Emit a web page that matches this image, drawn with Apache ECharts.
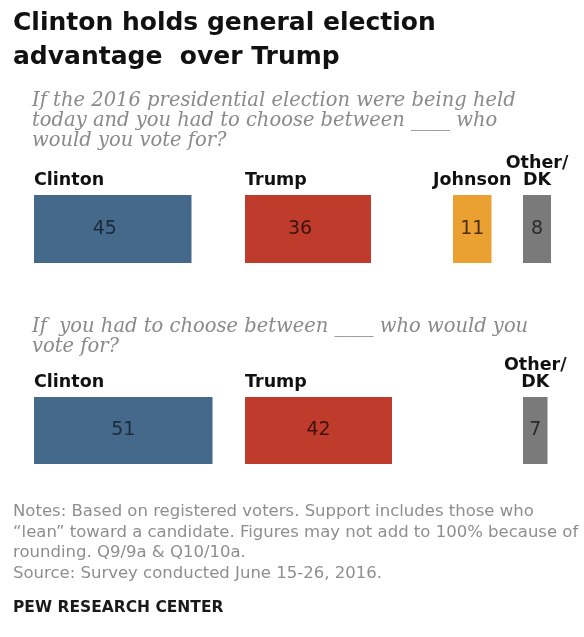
<!DOCTYPE html>
<html>
<head>
<meta charset="utf-8">
<script src="https://cdn.jsdelivr.net/npm/echarts@6/dist/echarts.min.js"></script>
<style>
  html, body { margin: 0; padding: 0; background: #ffffff; }
  #chart { width: 584px; height: 637px; }
</style>
</head>
<body>
<div id="chart"></div>
<script>
// Question with Johnson offered as a choice
const threeWayNames = ['Clinton', 'Trump', 'Johnson', 'Other/\nDK'];
const threeWayValues = [45, 36, 11, 8];

// Head-to-head question
const twoWayNames = ['Clinton', 'Trump', 'Other/\nDK'];
const twoWayValues = [51, 42, 7];

const titleLines = ['Clinton holds general election', 'advantage  over Trump'];
const question1Lines = [
  'If the 2016 presidential election were being held',
  'today and you had to choose between ____ who',
  'would you vote for?'
];
const question2Lines = [
  'If  you had to choose between ____ who would you',
  'vote for?'
];
const noteLines = [
  'Notes: Based on registered voters. Support includes those who',
  '\u201clean\u201d toward a candidate. Figures may not add to 100% because of',
  'rounding. Q9/9a & Q10/10a.',
  'Source: Survey conducted June 15-26, 2016.'
];
const creditLine = 'PEW RESEARCH CENTER';

// Styling per candidate
const barColors = { 'Clinton': '#44698a', 'Trump': '#bf3b2b', 'Johnson': '#eba132', 'Other/\nDK': '#7a7a7a' };
const valueInk = { 'Clinton': '#1b2b3a', 'Trump': '#3e130c', 'Johnson': '#4a2c06', 'Other/\nDK': '#2b2b2b' };

// Every bar shares one scale: 3.5 px per percentage point.
// Each bar gets its own small grid whose axis range keeps it inside the canvas.
const PX_PER_POINT = 3.5;

const rows = [
  { names: threeWayNames, values: threeWayValues, lefts: [34, 245, 453, 523], axisMax: [60, 60, 15, 15],
    top: 195, height: 68, nameAlign: ['left', 'left', 'center', 'center'], valueNudge: [-8, -8, 0, 0] },
  { names: twoWayNames, values: twoWayValues, lefts: [34, 245, 523], axisMax: [60, 60, 15],
    top: 397, height: 67, nameAlign: ['left', 'left', 'center'], valueNudge: [0, 0, 0] }
];

const grid = [], xAxis = [], yAxis = [], series = [], barInfo = [];
rows.forEach(row => {
  row.names.forEach((name, j) => {
    const idx = grid.length;
    grid.push({ left: row.lefts[j], top: row.top, width: row.axisMax[j] * PX_PER_POINT, height: row.height, containLabel: false });
    xAxis.push({ type: 'value', gridIndex: idx, min: 0, max: row.axisMax[j], show: false });
    yAxis.push({ type: 'category', gridIndex: idx, data: [name], show: false });
    series.push({
      type: 'bar',
      xAxisIndex: idx,
      yAxisIndex: idx,
      data: [row.values[j]],
      barWidth: row.height,
      silent: true,
      itemStyle: { color: barColors[name] },
      label: {
        show: true,
        position: 'inside',
        offset: [row.valueNudge[j], 0],
        formatter: '{c}',
        fontFamily: 'DejaVu Sans',
        fontSize: 19,
        color: valueInk[name]
      }
    });
    barInfo.push({ idx, name, value: row.values[j], top: row.top, align: row.nameAlign[j] });
  });
});

// Plain text lines placed by baseline
function textLines(lines, x, firstBaseline, step, font, size, fill) {
  return lines.map((t, i) => ({
    type: 'text',
    x: x,
    y: firstBaseline + i * step - 0.3 * size,
    silent: true,
    style: { text: t, font: font, fill: fill, align: 'left', verticalAlign: 'middle' }
  }));
}

const staticText = [].concat(
  textLines(titleLines, 13, 31, 34, 'bold 25px "DejaVu Sans"', 25, '#111111'),
  textLines(question1Lines, 32, 107, 20, 'italic 19.5px "DejaVu Serif"', 19.5, '#8a8a8a'),
  textLines(question2Lines, 32, 333, 20, 'italic 19.5px "DejaVu Serif"', 19.5, '#8a8a8a'),
  textLines(noteLines, 13, 517, 20.5, '16.5px "DejaVu Sans"', 16.5, '#8e8e8e'),
  textLines([creditLine], 13, 613, 0, 'bold 15.5px "DejaVu Sans"', 15.5, '#1a1a1a')
);

const chart = echarts.init(document.getElementById('chart'), null, { renderer: 'canvas' });
chart.setOption({
  animation: false,
  backgroundColor: '#ffffff',
  grid, xAxis, yAxis, series,
  graphic: staticText
});

// Candidate names sit just above their bars, placed from the axis scales
const NAME_SIZE = 17.5, NAME_LINE = 17;
const nameText = barInfo.map(b => {
  const x0 = chart.convertToPixel({ xAxisIndex: b.idx }, 0);
  const x1 = chart.convertToPixel({ xAxisIndex: b.idx }, b.value);
  const baseline = b.top - 9;
  return {
    type: 'text',
    x: b.align === 'left' ? x0 : (x0 + x1) / 2,
    y: baseline - 0.3 * NAME_SIZE + NAME_LINE / 2,
    silent: true,
    style: {
      text: b.name,
      font: 'bold ' + NAME_SIZE + 'px "DejaVu Sans"',
      fill: '#111111',
      align: b.align,
      verticalAlign: 'bottom',
      lineHeight: NAME_LINE
    }
  };
});
chart.setOption({ graphic: staticText.concat(nameText) });
</script>
</body>
</html>
